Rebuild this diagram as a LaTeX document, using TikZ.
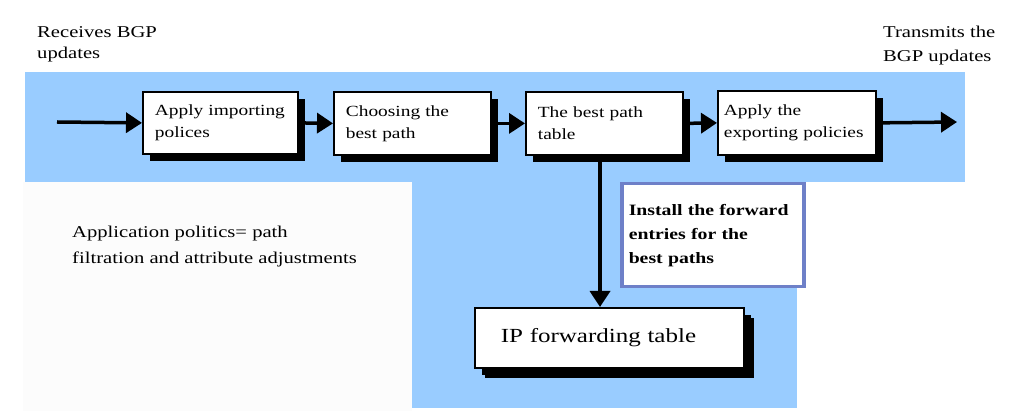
\documentclass[tikz,border=0pt]{standalone}
\usepackage{fontspec}
\setmainfont{Liberation Serif}[FakeStretch=1.25]
\usetikzlibrary{arrows.meta,shadows}
\definecolor{band}{RGB}{153,204,255}
\definecolor{instborder}{RGB}{110,128,200}
\definecolor{pale}{RGB}{252,252,252}
\tikzset{
  stepbox/.style={draw=black, line width=1.8pt, fill=white, anchor=north west,
    align=left, inner sep=0pt, font=\fontsize{15.5}{22}\selectfont,
    drop shadow={shadow xshift=7pt, shadow yshift=-7pt, fill=black, opacity=1}},
  arr/.style={line width=3.5pt, -{Triangle[length=16pt,width=20pt]}},
  lbl/.style={anchor=north west, align=left, inner sep=0pt, font=\fontsize{16.5}{21}\selectfont},
}
\begin{document}
\begin{tikzpicture}[x=1pt,y=-1pt]
\useasboundingbox (0,0) rectangle (1035,411);
\fill[white] (0,0) rectangle (1035,411);
\fill[pale] (23,182) rectangle (412,411);
\fill[band] (25,72) rectangle (965,182);
\fill[band] (412,182) rectangle (797,408);

\node[stepbox, minimum width=155pt, minimum height=62pt, text width=131pt] (b1) at (142,91) {Apply importing\\polices};
\node[stepbox, minimum width=157pt, minimum height=63pt, text width=133pt] (b2) at (333,91) {Choosing the\\best path};
\node[stepbox, minimum width=157pt, minimum height=63pt, text width=133pt] (b3) at (525,91) {The best path\\table};
\node[stepbox, minimum width=158pt, minimum height=64pt, text width=146pt] (b4) at (717,90) {Apply the\\exporting policies};
\node[stepbox, minimum width=269pt, minimum height=60pt, text width=217pt, font=\fontsize{20}{24}\selectfont,
  drop shadow={shadow xshift=10pt, shadow yshift=-10pt, fill=black, opacity=1}] (ip) at (474,307) {IP forwarding table};
\node[draw=instborder, line width=3.5pt, fill=white, anchor=north west, inner sep=0pt,
  minimum width=182pt, minimum height=103pt, text width=168pt, align=left,
  font=\fontsize{15.8}{24}\selectfont\bfseries] (inst) at (620,182) {Install the forward\\entries for the\\best paths};

\node[lbl] (recv) at (37,26) {Receives BGP\\updates};
\node[lbl, font=\fontsize{16.5}{24}\selectfont] (trans) at (883,26) {Transmits the\\BGP updates};
\node[lbl, font=\fontsize{16.5}{26}\selectfont] (app) at (72,226) {Application politics= path\\filtration and attribute adjustments};

\coordinate (in) at (57,122);
\coordinate (out) at (957,122);
\coordinate (b3s) at (600,154);
\draw[arr] (in) -- (b1.west);
\draw[arr] (b1.east) -- (b2.west);
\draw[arr] (b2.east) -- (b3.west);
\draw[arr] (b3.east) -- (b4.west);
\draw[arr] (b4.east) -- (out);
\draw[arr] (b3s) -- (b3s |- ip.north);
\end{tikzpicture}
\end{document}
